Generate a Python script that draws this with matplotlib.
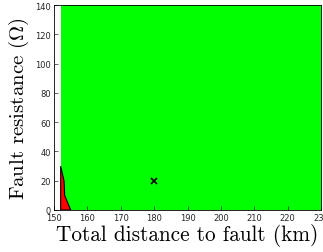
import numpy as np
import matplotlib
matplotlib.use('Agg')
import matplotlib.pyplot as plt

plt.rcParams['mathtext.fontset'] = 'cm'
plt.rcParams['axes.unicode_minus'] = False

# region where fault is detected (green) and missed (red)
green_x = [152, 230, 230, 152]
green_y = [0, 0, 140, 140]
red_x = [152, 152, 153, 153.2, 155]
red_y = [0, 30, 20, 10, 0]
# test point
pt_x = [180]
pt_y = [20]

xticks = np.arange(150, 231, 10)
yticks = np.arange(0, 141, 20)

fig = plt.figure(figsize=(3.23, 2.53), dpi=100)
ax = fig.add_axes([54/323, 1-211/253, (321-54)/323, (211-6)/253])

ax.fill(green_x, green_y, color='#00ff00', lw=0)
ax.fill(red_x, red_y, facecolor='#ff0000', edgecolor='k', lw=0.8)
ax.plot(pt_x, pt_y, 'kx', ms=4, mew=1.2)

ax.set_xlim(150, 230)
ax.set_ylim(0, 140)
ax.set_xticks(xticks)
ax.set_yticks(yticks)
ax.tick_params(direction='in', length=3, width=0.5, labelsize=6, colors='#262626', pad=2)
for s in ax.spines.values():
    s.set_linewidth(0.6)

ax.set_xlabel('Total distance to fault (km)', fontname='cmr10', fontsize=15.3, labelpad=1)
ax.set_ylabel(r'Fault resistance ($\Omega$)', fontname='cmr10', fontsize=15, labelpad=3)

fig.savefig('out.png', dpi=100)
